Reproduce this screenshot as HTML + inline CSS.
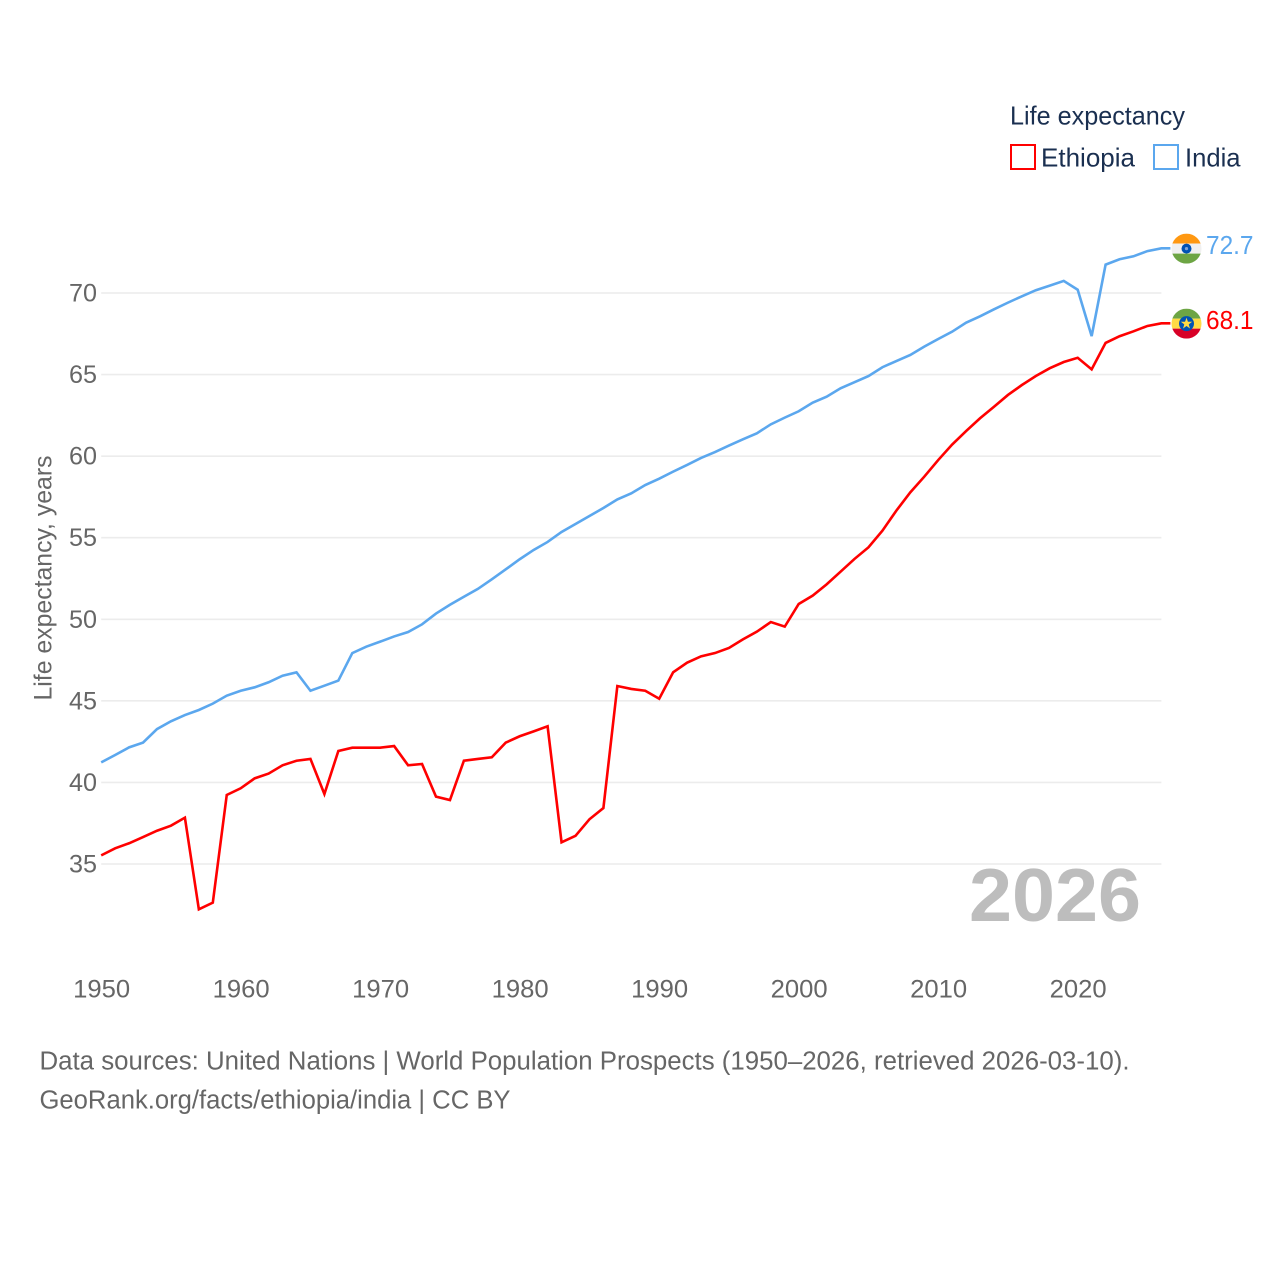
<!DOCTYPE html>
<html lang="en">
<head>
<meta charset="utf-8">
<title>Life expectancy: Ethiopia and India</title>
<style>
html,body{margin:0;padding:0;background:#fff;}
svg{display:block;}
text{font-family:"Liberation Sans",sans-serif;}
</style>
</head>
<body>
<svg id="chart" width="1280" height="1280" viewBox="0 0 1280 1280" xmlns="http://www.w3.org/2000/svg">
  <rect x="0" y="0" width="1280" height="1280" fill="#ffffff"/>
  <g id="grid"></g>
  <g id="yticks"></g>
  <g id="xticks"></g>
  <text transform="translate(51.5 700.5) rotate(-90)" font-size="25" fill="#666666" textLength="245" lengthAdjust="spacingAndGlyphs">Life expectancy, years</text>
  <text x="969" y="921" font-size="75" font-weight="700" fill="#bdbdbd" textLength="172" lengthAdjust="spacingAndGlyphs">2026</text>
  <g id="series"></g>

  <g id="flag-india">
    <clipPath id="clip-in"><circle cx="0" cy="0" r="15"/></clipPath>
    <g clip-path="url(#clip-in)">
      <rect x="-15" y="-15" width="30" height="10" fill="#ff9811"/>
      <rect x="-15" y="-5" width="30" height="10" fill="#f0f0f0"/>
      <rect x="-15" y="5" width="30" height="10" fill="#6da544"/>
    </g>
    <circle cx="0" cy="0" r="5" fill="#0052b4"/>
    <circle cx="0" cy="0" r="1.6" fill="#7fa3d8"/>
  </g>
  <g id="flag-ethiopia">
    <clipPath id="clip-et"><circle cx="0" cy="0" r="15"/></clipPath>
    <g clip-path="url(#clip-et)">
      <rect x="-15" y="-15" width="30" height="10" fill="#6da544"/>
      <rect x="-15" y="-5" width="30" height="10" fill="#ffda44"/>
      <rect x="-15" y="5" width="30" height="10" fill="#d80027"/>
    </g>
    <circle cx="0" cy="0" r="7.5" fill="#0052b4"/>
    <polygon points="0,-6 1.4,-1.9 5.7,-1.9 2.2,0.7 3.5,4.9 0,2.3 -3.5,4.9 -2.2,0.7 -5.7,-1.9 -1.4,-1.9" fill="#ffda44"/>
    <circle cx="0" cy="0" r="2.4" fill="#ffda44"/>
  </g>
  <text id="label-india" x="1206" font-size="26" fill="#5ba7ee" textLength="47.5" lengthAdjust="spacingAndGlyphs"></text>
  <text id="label-ethiopia" x="1206" font-size="26" fill="#ff0000" textLength="47.5" lengthAdjust="spacingAndGlyphs"></text>

  <g>
    <text x="1010" y="124.5" font-size="26" fill="#1a2f50" textLength="175" lengthAdjust="spacingAndGlyphs">Life expectancy</text>
    <g>
      <rect x="1011" y="145" width="24" height="24" fill="none" stroke="#ff0000" stroke-width="2"/>
      <text x="1041" y="166.5" font-size="26" fill="#1a2f50" textLength="94" lengthAdjust="spacingAndGlyphs">Ethiopia</text>
    </g>
    <g>
      <rect x="1154" y="145" width="24" height="24" fill="none" stroke="#5ba7ee" stroke-width="2"/>
      <text x="1185" y="166.5" font-size="26" fill="#1a2f50" textLength="55.5" lengthAdjust="spacingAndGlyphs">India</text>
    </g>
  </g>

  <text x="39.5" y="1069.5" font-size="25.5" fill="#666666" textLength="1090" lengthAdjust="spacingAndGlyphs">Data sources: United Nations | World Population Prospects (1950–2026, retrieved 2026-03-10).</text>
  <text x="39.5" y="1108.5" font-size="25.5" fill="#666666" textLength="471" lengthAdjust="spacingAndGlyphs">GeoRank.org/facts/ethiopia/india | CC BY</text>
</svg>
<script>
const firstYear = 1950;
const lastYear = 2026;
const yTickValues = [35, 40, 45, 50, 55, 60, 65, 70];
const xTickLabels = [1950, 1960, 1970, 1980, 1990, 2000, 2010, 2020];
const ethiopiaValues = [
  35.53,35.96,36.27,36.65,37.04,37.35,37.84,32.22,32.63,39.23,
  39.64,40.25,40.54,41.05,41.33,41.44,39.29,41.93,42.13,42.13,
  42.13,42.23,41.05,41.13,39.13,38.92,41.33,41.44,41.54,42.44,
  42.83,43.13,43.44,36.33,36.73,37.74,38.43,45.91,45.73,45.62,
  45.13,46.75,47.34,47.73,47.93,48.24,48.77,49.24,49.83,49.55,
  50.94,51.45,52.14,52.92,53.70,54.41,55.43,56.66,57.78,58.74,
  59.76,60.71,61.54,62.32,63.03,63.75,64.36,64.91,65.39,65.77,
  66.03,65.32,66.94,67.35,67.65,67.98,68.14
];
const indiaValues = [
  41.23,41.68,42.15,42.44,43.27,43.75,44.13,44.44,44.83,45.32,
  45.62,45.83,46.14,46.54,46.75,45.62,45.93,46.24,47.93,48.32,
  48.63,48.95,49.22,49.69,50.35,50.89,51.38,51.86,52.45,53.06,
  53.68,54.25,54.74,55.35,55.84,56.33,56.82,57.35,57.72,58.23,
  58.62,59.05,59.46,59.89,60.25,60.65,61.03,61.40,61.95,62.36,
  62.75,63.28,63.64,64.16,64.53,64.91,65.45,65.83,66.20,66.71,
  67.18,67.63,68.18,68.57,69.00,69.41,69.80,70.17,70.45,70.74,
  70.20,67.36,71.74,72.07,72.25,72.57,72.74
];

const NS = 'http://www.w3.org/2000/svg';
const plotLeft = 101.2, plotRight = 1161.4;
const y35 = 864, y70 = 293;
function xScale(year) {
  return plotLeft + (year - firstYear) * (plotRight - plotLeft) / (lastYear - firstYear);
}
function yScale(v) {
  return y35 - (v - 35) * (y35 - y70) / 35;
}

const gridG = document.getElementById('grid');
const yG = document.getElementById('yticks');
yTickValues.forEach(function (t) {
  const line = document.createElementNS(NS, 'line');
  
  
  line.setAttribute('x1', plotLeft);
  line.setAttribute('x2', plotRight);
  line.setAttribute('y1', yScale(t));
  line.setAttribute('y2', yScale(t));
  line.setAttribute('stroke', '#ececec');
  line.setAttribute('stroke-width', '1.6');
  gridG.appendChild(line);
  const label = document.createElementNS(NS, 'text');
  
  
  label.setAttribute('x', 69);
  label.setAttribute('y', yScale(t) + 8.5);
  label.setAttribute('font-size', '25');
  label.setAttribute('fill', '#666666');
  label.setAttribute('textLength', '28');
  label.setAttribute('lengthAdjust', 'spacingAndGlyphs');
  label.textContent = t;
  yG.appendChild(label);
});

const xG = document.getElementById('xticks');
xTickLabels.forEach(function (t) {
  const label = document.createElementNS(NS, 'text');
  
  
  label.setAttribute('x', xScale(t) - 28);
  label.setAttribute('y', 997.5);
  label.setAttribute('font-size', '25');
  label.setAttribute('fill', '#666666');
  label.setAttribute('textLength', '57');
  label.setAttribute('lengthAdjust', 'spacingAndGlyphs');
  label.textContent = t;
  xG.appendChild(label);
});

function linePath(values) {
  let d = '';
  values.forEach(function (v, i) {
    d += (i ? 'L' : 'M') + xScale(firstYear + i).toFixed(2) + ' ' + yScale(v).toFixed(2);
  });
  d += 'L' + (plotRight + 9) + ' ' + yScale(values[values.length - 1]).toFixed(2);
  return d;
}
const seriesG = document.getElementById('series');
const indiaLine = document.createElementNS(NS, 'path');


indiaLine.setAttribute('d', linePath(indiaValues));
indiaLine.setAttribute('fill', 'none');
indiaLine.setAttribute('stroke', '#5ba7ee');
indiaLine.setAttribute('stroke-width', '2.6');
indiaLine.setAttribute('stroke-linejoin', 'miter');
seriesG.appendChild(indiaLine);
const ethiopiaLine = document.createElementNS(NS, 'path');


ethiopiaLine.setAttribute('d', linePath(ethiopiaValues));
ethiopiaLine.setAttribute('fill', 'none');
ethiopiaLine.setAttribute('stroke', '#ff0000');
ethiopiaLine.setAttribute('stroke-width', '2.6');
ethiopiaLine.setAttribute('stroke-linejoin', 'miter');
seriesG.appendChild(ethiopiaLine);

const lastIndia = indiaValues[indiaValues.length - 1];
const lastEthiopia = ethiopiaValues[ethiopiaValues.length - 1];
document.getElementById('flag-india').setAttribute('transform', 'translate(1186.5 ' + (yScale(lastIndia) + 0.3) + ')');
document.getElementById('flag-ethiopia').setAttribute('transform', 'translate(1186.5 ' + (yScale(lastEthiopia) + 0.3) + ')');
const labelIndia = document.getElementById('label-india');
labelIndia.setAttribute('y', yScale(lastIndia) + 5.5);
labelIndia.textContent = lastIndia.toFixed(1);
const labelEthiopia = document.getElementById('label-ethiopia');
labelEthiopia.setAttribute('y', yScale(lastEthiopia) + 5.5);
labelEthiopia.textContent = lastEthiopia.toFixed(1);
</script>
</body>
</html>
